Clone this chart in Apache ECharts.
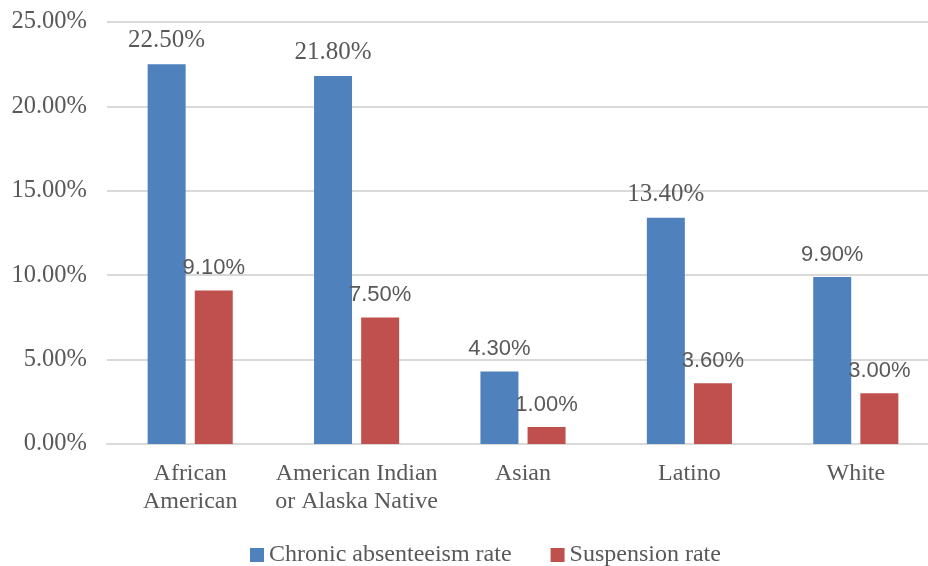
<!DOCTYPE html>
<html>
<head>
<meta charset="utf-8">
<script src="https://cdn.jsdelivr.net/npm/echarts@6/dist/echarts.min.js"></script>
<style>html,body{margin:0;padding:0;background:#fff}#c{width:928px;height:566px}</style>
</head>
<body>
<div id="c"></div>
<script>
var categories = ['African\nAmerican', 'American Indian\nor Alaska Native', 'Asian', 'Latino', 'White'];
var absenteeism = [22.5, 21.8, 4.3, 13.4, 9.9];
var suspension = [9.1, 7.5, 1.0, 3.6, 3.0];
var seriesNames = ['Chronic absenteeism rate', 'Suspension rate'];
var yTicks = { min: 0, max: 25, interval: 5 };

var SERIF = '"Liberation Serif", "Times New Roman", serif';
var SANS = '"Liberation Sans", Arial, sans-serif';
var TXT = '#595959';

function mkData(arr) {
  return arr.map(function (v) {
    return {
      value: v,
      label: { fontFamily: v >= 10 ? SERIF : SANS, fontSize: v >= 10 ? 25 : 22 }
    };
  });
}

var chart = echarts.init(document.getElementById('c'), null, { renderer: 'canvas' });
chart.setOption({
  animation: false,
  textStyle: { fontFamily: SERIF, color: TXT },
  grid: { left: 107, width: 832, top: 22, bottom: 122, containLabel: false, outerBoundsMode: 'none' },
  legend: {
    bottom: -6,
    left: 245,
    itemWidth: 14,
    itemHeight: 14,
    itemGap: 39,
    icon: 'rect',
    textStyle: { fontFamily: SERIF, fontSize: 24, color: TXT },
    data: seriesNames
  },
  xAxis: {
    type: 'category',
    data: categories,
    axisLine: { lineStyle: { color: '#D9D9D9', width: 2 } },
    axisTick: { show: false },
    axisLabel: { fontFamily: SERIF, fontSize: 24, color: TXT, margin: 16, lineHeight: 28, interval: 0 }
  },
  yAxis: {
    type: 'value',
    min: yTicks.min,
    max: yTicks.max,
    interval: yTicks.interval,
    axisLine: { show: false },
    axisTick: { show: false },
    splitLine: { lineStyle: { color: '#D9D9D9', width: 2 } },
    axisLabel: {
      fontFamily: SERIF, fontSize: 24.5, color: TXT, margin: 20,
      formatter: function (v) { return v.toFixed(2) + '%'; }
    }
  },
  series: [
    {
      name: seriesNames[0], type: 'bar', data: mkData(absenteeism),
      barWidth: 38, barGap: '24%',
      itemStyle: { color: '#4F81BD' },
      label: { show: true, position: 'top', distance: 11, color: TXT,
        formatter: function (p) { return p.value.toFixed(2) + '%'; } }
    },
    {
      name: seriesNames[1], type: 'bar', data: mkData(suspension),
      barWidth: 38,
      itemStyle: { color: '#C0504D' },
      label: { show: true, position: 'top', distance: 11, color: TXT,
        formatter: function (p) { return p.value.toFixed(2) + '%'; } }
    }
  ]
});
</script>
</body>
</html>
